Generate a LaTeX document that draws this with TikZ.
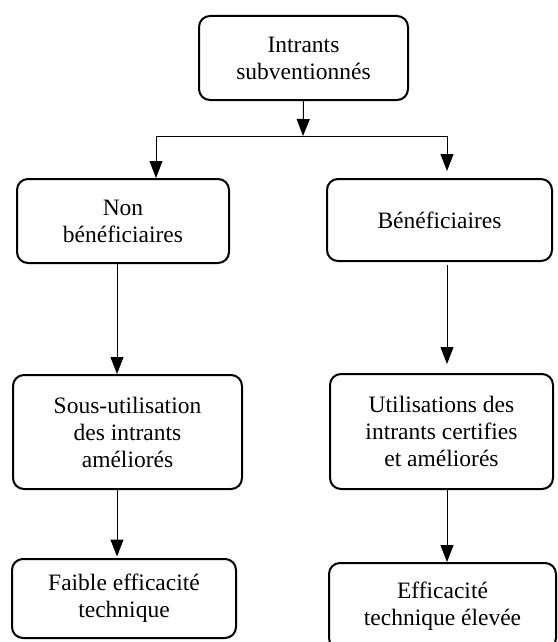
\documentclass[tikz,border=0pt]{standalone}
\usepackage{fontspec}
\setmainfont{Liberation Serif}
\usetikzlibrary{arrows.meta}
\begin{document}
\begin{tikzpicture}[x=1pt,y=-1pt,
  box/.style={draw, line width=2pt, rounded corners=11pt, align=center,
    inner sep=0pt, font=\fontsize{23.5}{27}\selectfont},
  conn/.style={line width=1pt, -{Triangle[length=17pt,width=13pt]}},
  plain/.style={line width=1pt}]
\useasboundingbox (0,0) rectangle (557,642);
\clip (0,0) rectangle (557,642);
\node[box, minimum width=209pt, minimum height=84pt] (top) at (303.5,58) {Intrants\\subventionnés};
\node[box, minimum width=212pt, minimum height=84pt] (non) at (123,221) {Non\\bénéficiaires};
\node[box, minimum width=225pt, minimum height=82pt] (ben) at (439.5,220) {Bénéficiaires};
\node[box, minimum width=229pt, minimum height=114pt] (sous) at (127.5,432) {Sous-utilisation\\des intrants\\améliorés};
\node[box, minimum width=223pt, minimum height=115pt] (util) at (441.5,431.5) {Utilisations des\\intrants certifies\\et améliorés};
\node[box, minimum width=224pt, minimum height=79pt] (faible) at (124,598.5) {Faible efficacité\\technique};
\node[box, minimum width=227pt, minimum height=86pt] (eff) at (442.5,606) {Efficacité\\technique élevée};
% split
\coordinate (hm) at (303,136);
\coordinate (hl) at (156,136);
\coordinate (hr) at (447,136);
\draw[conn] (top.south) -- (hm);
\draw[plain] (hl) -- (hr);
\draw[conn] (hl) -- (hl |- non.north);
\draw[conn, shorten >=7pt] (hr) -- (hr |- ben.north);
% left column
\coordinate (la) at (117,263);
\coordinate (lb) at (117,489);
\draw[conn] (la) -- (la |- sous.north);
\draw[conn, shorten >=1.5pt] (lb) -- (lb |- faible.north);
% right column
\coordinate (ra) at (447,261);
\coordinate (rb) at (447,489);
\draw[conn, shorten <=4pt, shorten >=9pt] (ra) -- (ra |- util.north);
\draw[conn] (rb) -- (rb |- eff.north);
\end{tikzpicture}
\end{document}
